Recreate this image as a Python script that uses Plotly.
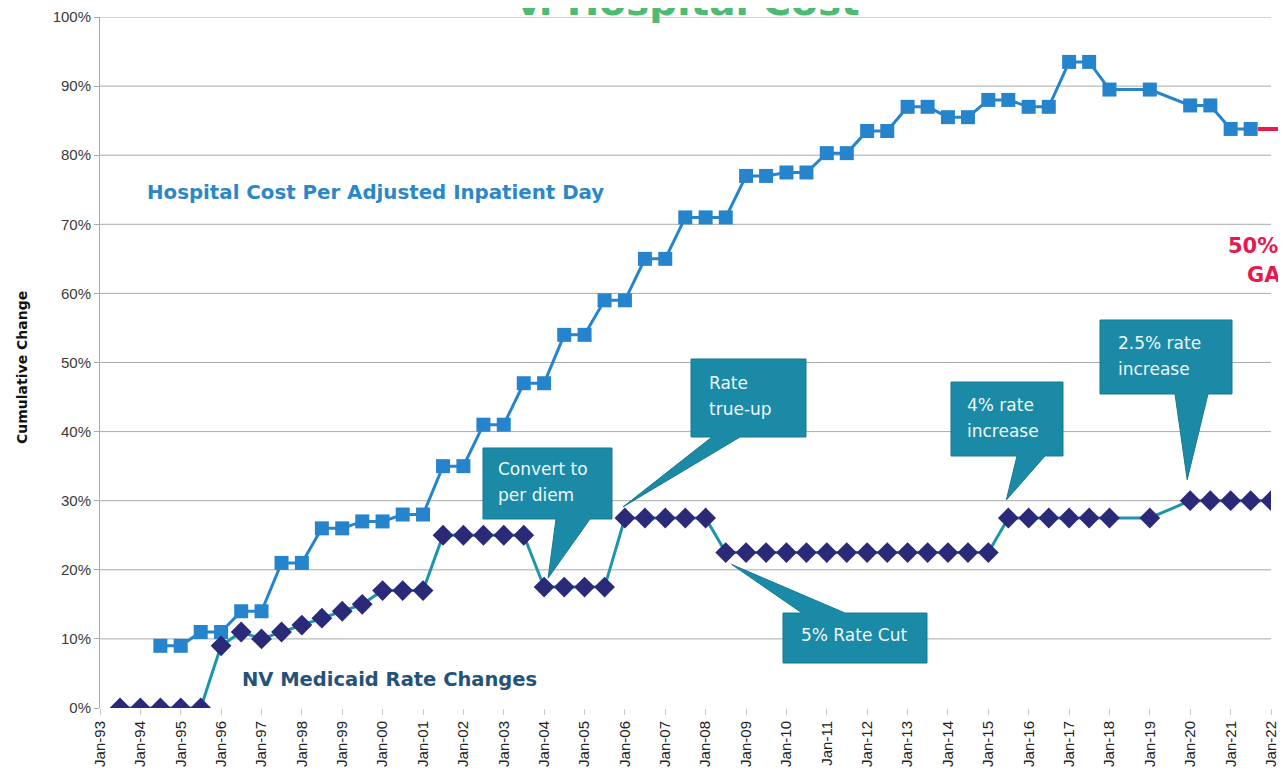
import plotly.graph_objects as go
import pandas as pd

# ---------------- data ----------------
dates = ["1993-07-01", "1994-01-01", "1994-07-01", "1995-01-01", "1995-07-01",
         "1996-01-01", "1996-07-01", "1997-01-01", "1997-07-01", "1998-01-01",
         "1998-07-01", "1999-01-01", "1999-07-01", "2000-01-01", "2000-07-01",
         "2001-01-01", "2001-07-01", "2002-01-01", "2002-07-01", "2003-01-01",
         "2003-07-01", "2004-01-01", "2004-07-01", "2005-01-01", "2005-07-01",
         "2006-01-01", "2006-07-01", "2007-01-01", "2007-07-01", "2008-01-01",
         "2008-07-01", "2009-01-01", "2009-07-01", "2010-01-01", "2010-07-01",
         "2011-01-01", "2011-07-01", "2012-01-01", "2012-07-01", "2013-01-01",
         "2013-07-01", "2014-01-01", "2014-07-01", "2015-01-01", "2015-07-01",
         "2016-01-01", "2016-07-01", "2017-01-01", "2017-07-01", "2018-01-01",
         "2018-07-01", "2019-01-01", "2019-07-01", "2020-01-01", "2020-07-01",
         "2021-01-01", "2021-07-01", "2022-01-01"]

hospital_cost = [None, None, 9, 9, 11,
                 11, 14, 14, 21, 21,
                 26, 26, 27, 27, 28,
                 28, 35, 35, 41, 41,
                 47, 47, 54, 54, 59,
                 59, 65, 65, 71, 71,
                 71, 77, 77, 77.5, 77.5,
                 80.3, 80.3, 83.5, 83.5, 87,
                 87, 85.5, 85.5, 88, 88,
                 87, 87, 93.5, 93.5, 89.5,
                 None, 89.5, None, 87.2, 87.2,
                 83.8, 83.8, None]

medicaid_rate = [0, 0, 0, 0, 0,
                 9, 11, 10, 11, 12,
                 13, 14, 15, 17, 17,
                 17, 25, 25, 25, 25,
                 25, 17.5, 17.5, 17.5, 17.5,
                 27.5, 27.5, 27.5, 27.5, 27.5,
                 22.5, 22.5, 22.5, 22.5, 22.5,
                 22.5, 22.5, 22.5, 22.5, 22.5,
                 22.5, 22.5, 22.5, 22.5, 27.5,
                 27.5, 27.5, 27.5, 27.5, 27.5,
                 None, 27.5, None, 30, 30,
                 30, 30, 30]

y_ticks = [0, 10, 20, 30, 40, 50, 60, 70, 80, 90, 100]
y_tick_labels = ["%d%%" % v for v in y_ticks]
x_range = ["1993-01-01", "2022-01-01"]

callouts = [
    {"lines": ["Convert to", "per diem"], "date": "2004-01-01", "value": 17.5},
    {"lines": ["Rate", "true-up"], "date": "2006-01-01", "value": 27.5},
    {"lines": ["5% Rate Cut"], "date": "2008-07-01", "value": 22.5},
    {"lines": ["4% rate", "increase"], "date": "2015-07-01", "value": 27.5},
    {"lines": ["2.5% rate", "increase"], "date": "2020-01-01", "value": 30},
]

# ---------------- layout geometry ----------------
# the page body has an 8px margin, so the figure is drawn 8px in from the corner;
# keep the page from overflowing the 1286x778 window
PAGE_OFF = 8
W, H = 1286 - PAGE_OFF, 778 - 2 * PAGE_OFF
PLOT_L, PLOT_T, PLOT_R, PLOT_B = 100, 17, 1271, 708   # page pixels of plot area
PW, PH = PLOT_R - PLOT_L, PLOT_B - PLOT_T
ML, MT = PLOT_L - PAGE_OFF, PLOT_T - PAGE_OFF
MR, MB = W - ML - PW, H - MT - PH

x0_ts, x1_ts = pd.Timestamp(x_range[0]), pd.Timestamp(x_range[1])


def px_of_date(d):
    return PLOT_L + (pd.Timestamp(d) - x0_ts) / (x1_ts - x0_ts) * PW


def py_of_val(v):
    return PLOT_B - v / 100.0 * PH


def to_paper(x, y):
    return (x - PLOT_L) / PW, (PLOT_B - y) / PH


BLUE = "#2684cc"
NAVY = "#2a2a78"
TEAL_LINE = "#1c96ab"
CALLOUT = "#1b8aa6"
CALLOUT_EDGE = "#16798f"
RED = "#e8194f"
FONT = "DejaVu Sans, Open Sans, sans-serif"
TICK_FONT = "Liberation Sans, Arial, sans-serif"

fig = go.Figure()

fig.add_trace(go.Scatter(
    x=dates, y=hospital_cost, mode="lines+markers", connectgaps=True,
    name="Hospital Cost Per Adjusted Inpatient Day",
    line=dict(color=BLUE, width=3),
    marker=dict(symbol="square", size=14, color=BLUE),
))
fig.add_trace(go.Scatter(
    x=dates, y=medicaid_rate, mode="lines+markers", connectgaps=True,
    name="NV Medicaid Rate Changes",
    line=dict(color=TEAL_LINE, width=3),
    marker=dict(symbol="diamond", size=16, color=NAVY),
))

shapes = []
annotations = []

# gridlines (no line at 0%)
for v in y_ticks[1:]:
    shapes.append(dict(type="line", xref="paper", yref="y", x0=0, x1=1, y0=v, y1=v,
                       line=dict(color="#a9a9a9", width=1), layer="below"))

# callout geometry in page pixels
callout_geom = [
    dict(box=(483, 448, 612, 519), base=(556, 590), edge="bottom", off=(4, -9),
         text_x=496, text_y=[469, 495]),
    dict(box=(691, 359, 806, 437), base=(712, 740), edge="bottom", off=(-2, -11),
         text_x=707, text_y=[383, 409]),
    dict(box=(783, 613, 927, 663), base=(802, 845), edge="top", off=(6, 12),
         text_x=799, text_y=[635]),
    dict(box=(951, 382, 1063, 456), base=(1017, 1045), edge="bottom", off=(-2, -18),
         text_x=965, text_y=[405, 431]),
    dict(box=(1100, 320, 1232, 394), base=(1175, 1208), edge="bottom", off=(-3, -21),
         text_x=1116, text_y=[343, 369]),
]

for c, g in zip(callouts, callout_geom):
    bx0, by0, bx1, by1 = g["box"]
    tx = px_of_date(c["date"]) + g["off"][0]
    ty = py_of_val(c["value"]) + g["off"][1]
    xa, xb = g["base"]
    if g["edge"] == "bottom":
        pts = [(bx0, by0), (bx1, by0), (bx1, by1), (xb, by1), (tx, ty), (xa, by1), (bx0, by1)]
    else:
        pts = [(bx0, by0), (xa, by0), (tx, ty), (xb, by0), (bx1, by0), (bx1, by1), (bx0, by1)]
    path = "M " + " L ".join("%.5f,%.5f" % to_paper(px, py) for px, py in pts) + " Z"
    shapes.append(dict(type="path", xref="paper", yref="paper", path=path,
                       fillcolor=CALLOUT, line=dict(color=CALLOUT_EDGE, width=1),
                       layer="above"))
    for line_text, ly in zip(c["lines"], g["text_y"]):
        ax, ay = to_paper(g["text_x"], ly)
        annotations.append(dict(xref="paper", yref="paper", x=ax, y=ay, text=line_text,
                                showarrow=False, xanchor="left", yanchor="middle",
                                font=dict(family=FONT, size=17, color="#eef7f9")))

# red gap lines extending beyond the plot, at the last values of each series
last_hosp = [v for v in hospital_cost if v is not None][-1]
last_med = [v for v in medicaid_rate if v is not None][-1]
for xs, v in ((1258, last_hosp), (1280, last_med)):
    xa_p, _ = to_paper(xs, 0)
    xb_p, _ = to_paper(1310, 0)
    shapes.append(dict(type="line", xref="paper", yref="paper", x0=xa_p, x1=xb_p,
                       y0=v / 100.0, y1=v / 100.0, line=dict(color=RED, width=4)))


def add_text(text, x, y, size, color, anchor="left", bold=True, angle=0,
             family=FONT, yanchor="middle"):
    ax, ay = to_paper(x, y)
    annotations.append(dict(xref="paper", yref="paper", x=ax, y=ay,
                            text="<b>%s</b>" % text if bold else text,
                            showarrow=False, xanchor=anchor, yanchor=yanchor,
                            textangle=angle,
                            font=dict(family=family, size=size, color=color)))


add_text("Hospital Cost Per Adjusted Inpatient Day", 145, 192, 19.8, "#2b87c9")
add_text("NV Medicaid Rate Changes", 240, 679, 19.5, "#23527a")
add_text("50%+", 1298, 246, 21, RED, anchor="right")
add_text("GAP", 1298, 275, 21, RED, anchor="right")
add_text("v. Hospital Cost", 688, 26, 39, "#4dbb73", anchor="center", yanchor="bottom")
add_text("Cumulative Change", 22, 368, 14, "#111111", anchor="center", angle=-90)

fig.update_layout(
    width=W, height=H,
    margin=dict(l=ML, r=MR, t=MT, b=MB, pad=0, autoexpand=False),
    paper_bgcolor="white", plot_bgcolor="white",
    showlegend=False,
    shapes=shapes, annotations=annotations,
    xaxis=dict(
        type="date", range=x_range, dtick="M12", tick0="1993-01-01",
        tickformat="%b-%y", tickangle=-90, automargin=False,
        showgrid=False, zeroline=False, showline=False,
        ticks="outside", ticklen=6, tickcolor="#c8c8c8",
        tickfont=dict(family=TICK_FONT, size=15, color="#222222"),
    ),
    yaxis=dict(
        range=[0, 100], tickmode="array", tickvals=y_ticks, ticktext=y_tick_labels,
        automargin=False,
        showgrid=False, zeroline=False,
        showline=True, linecolor="#a9a9a9", linewidth=1,
        ticks="outside", ticklen=5, tickcolor="#a9a9a9",
        tickfont=dict(family=TICK_FONT, size=15, color="#3a3a3a"),
    ),
)

fig.write_html("out.html")
